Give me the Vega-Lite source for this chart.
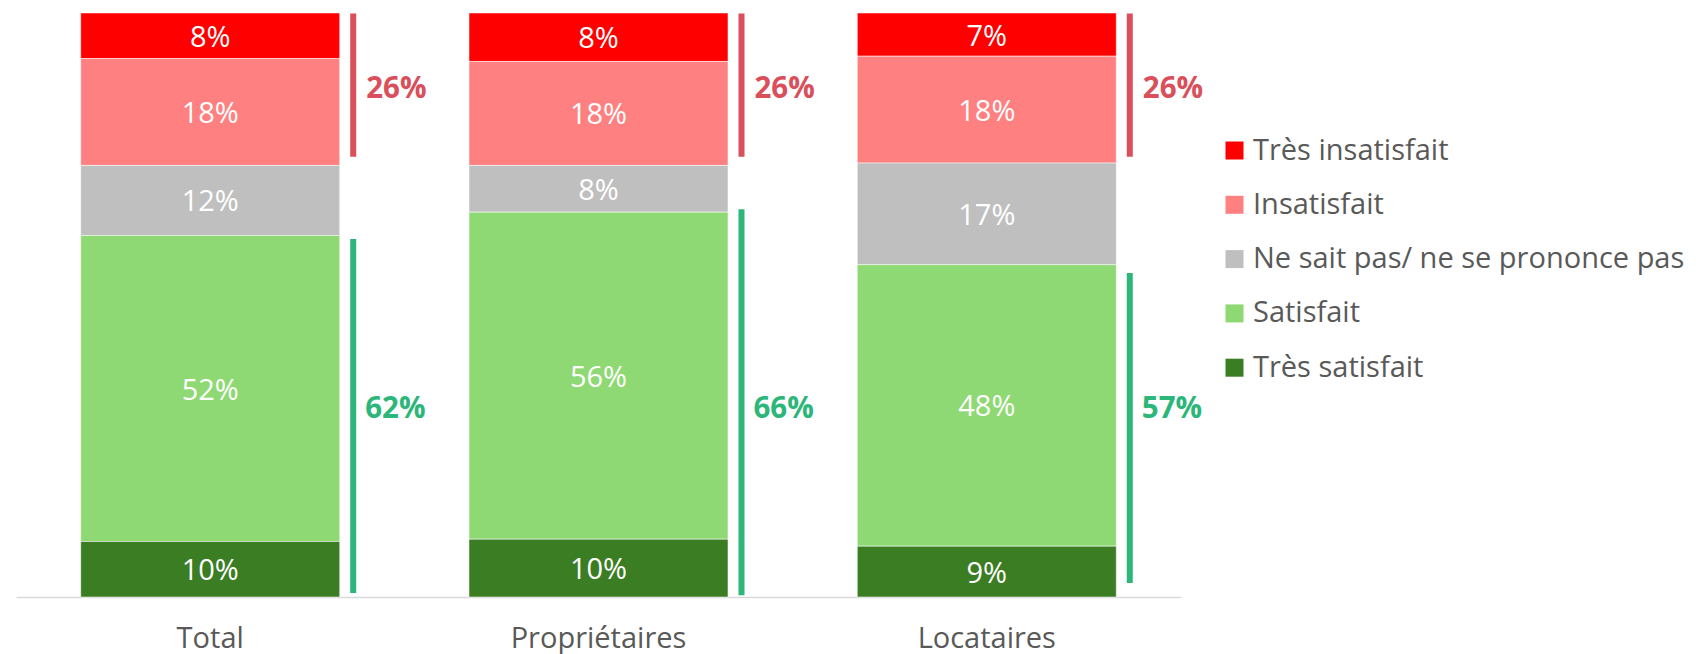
{
  "$schema": "https://vega.github.io/schema/vega-lite/v6.json",
  "width": 1165,
  "height": 584,
  "autosize": {"type": "none"},
  "padding": {"left": 16, "top": 13, "right": 515, "bottom": 57},
  "background": "white",
  "config": {"view": {"stroke": null}, "font": "Open Sans"},
  "datasets": {
    "bars": [
      {"groupe": "Total", "reponse": "Très insatisfait", "rang": 5, "part": 0.078},
      {"groupe": "Total", "reponse": "Insatisfait", "rang": 4, "part": 0.183},
      {"groupe": "Total", "reponse": "Ne sait pas/ ne se prononce pas", "rang": 3, "part": 0.12},
      {"groupe": "Total", "reponse": "Satisfait", "rang": 2, "part": 0.524},
      {"groupe": "Total", "reponse": "Très satisfait", "rang": 1, "part": 0.095},
      {"groupe": "Propriétaires", "reponse": "Très insatisfait", "rang": 5, "part": 0.083},
      {"groupe": "Propriétaires", "reponse": "Insatisfait", "rang": 4, "part": 0.178},
      {"groupe": "Propriétaires", "reponse": "Ne sait pas/ ne se prononce pas", "rang": 3, "part": 0.08},
      {"groupe": "Propriétaires", "reponse": "Satisfait", "rang": 2, "part": 0.56},
      {"groupe": "Propriétaires", "reponse": "Très satisfait", "rang": 1, "part": 0.099},
      {"groupe": "Locataires", "reponse": "Très insatisfait", "rang": 5, "part": 0.074},
      {"groupe": "Locataires", "reponse": "Insatisfait", "rang": 4, "part": 0.183},
      {"groupe": "Locataires", "reponse": "Ne sait pas/ ne se prononce pas", "rang": 3, "part": 0.174},
      {"groupe": "Locataires", "reponse": "Satisfait", "rang": 2, "part": 0.482},
      {"groupe": "Locataires", "reponse": "Très satisfait", "rang": 1, "part": 0.087}
    ],
    "brackets": [
      {"groupe": "Total", "type": "insatisfaits", "total": 0.26, "hi": 0.999, "lo": 0.754},
      {"groupe": "Propriétaires", "type": "insatisfaits", "total": 0.26, "hi": 0.999, "lo": 0.754},
      {"groupe": "Locataires", "type": "insatisfaits", "total": 0.26, "hi": 0.999, "lo": 0.754},
      {"groupe": "Total", "type": "satisfaits", "total": 0.62, "hi": 0.613, "lo": 0.007},
      {"groupe": "Propriétaires", "type": "satisfaits", "total": 0.66, "hi": 0.664, "lo": 0.003},
      {"groupe": "Locataires", "type": "satisfaits", "total": 0.57, "hi": 0.555, "lo": 0.024}
    ]
  },
  "layer": [
    {
      "data": {"name": "bars"},
      "mark": {"type": "bar", "stroke": "white", "strokeWidth": 1, "strokeOpacity": 0.5},
      "encoding": {
        "x": {
          "field": "groupe", "type": "nominal",
          "sort": ["Total", "Propriétaires", "Locataires"],
          "scale": {"paddingInner": 0.333, "paddingOuter": 0.1667},
          "axis": {
            "title": null, "labelAngle": 0, "labelFontSize": 29, "labelColor": "#595959",
            "labelPadding": 27, "ticks": false, "domainColor": "#D9D9D9", "domainWidth": 1.5,
            "labelFont": "Open Sans"
          }
        },
        "y": {
          "field": "part", "type": "quantitative", "stack": "zero",
          "scale": {"domain": [0, 1], "nice": false},
          "axis": null
        },
        "color": {
          "field": "reponse", "type": "nominal",
          "scale": {
            "domain": ["Très insatisfait", "Insatisfait", "Ne sait pas/ ne se prononce pas", "Satisfait", "Très satisfait"],
            "range": ["#FF0000", "#FF8080", "#BFBFBF", "#8ED973", "#3B7D23"]
          },
          "legend": {
            "title": null, "orient": "none", "legendX": 1204, "legendY": 123,
            "symbolType": "square", "symbolSize": 324, "symbolStrokeWidth": 0,
            "labelFontSize": 29, "labelColor": "#595959", "labelFont": "Open Sans",
            "rowPadding": 24.3, "padding": 0, "labelOffset": 4, "labelLimit": 600
          }
        },
        "order": {"field": "rang", "type": "quantitative", "sort": "ascending"}
      }
    },
    {
      "data": {"name": "bars"},
      "mark": {"type": "text", "color": "white", "fontSize": 29, "baseline": "middle", "align": "center", "dy": 2},
      "encoding": {
        "x": {"field": "groupe", "type": "nominal", "sort": ["Total", "Propriétaires", "Locataires"]},
        "y": {"field": "part", "type": "quantitative", "stack": "zero", "bandPosition": 0.5},
        "detail": {"field": "reponse"},
        "order": {"field": "rang", "type": "quantitative", "sort": "ascending"},
        "text": {"field": "part", "type": "quantitative", "format": ".0%"}
      }
    },
    {
      "data": {"name": "brackets"},
      "transform": [{"filter": "datum.type === 'insatisfaits'"}],
      "mark": {"type": "rule", "color": "#D94F5C", "strokeWidth": 6, "xOffset": 143},
      "encoding": {
        "x": {"field": "groupe", "type": "nominal", "sort": ["Total", "Propriétaires", "Locataires"]},
        "y": {"field": "hi", "type": "quantitative"},
        "y2": {"field": "lo"}
      }
    },
    {
      "data": {"name": "brackets"},
      "transform": [{"filter": "datum.type === 'satisfaits'"}],
      "mark": {"type": "rule", "color": "#2DB67A", "strokeWidth": 6, "xOffset": 143},
      "encoding": {
        "x": {"field": "groupe", "type": "nominal", "sort": ["Total", "Propriétaires", "Locataires"]},
        "y": {"field": "hi", "type": "quantitative"},
        "y2": {"field": "lo"}
      }
    },
    {
      "data": {"name": "brackets"},
      "transform": [{"filter": "datum.type === 'insatisfaits'"}],
      "mark": {"type": "text", "color": "#D94F5C", "fontSize": 29.5, "fontWeight": "bold", "align": "left", "baseline": "middle", "dx": 156, "dy": 76},
      "encoding": {
        "x": {"field": "groupe", "type": "nominal", "sort": ["Total", "Propriétaires", "Locataires"]},
        "y": {"datum": 1},
        "text": {"field": "total", "type": "quantitative", "format": ".0%"}
      }
    },
    {
      "data": {"name": "brackets"},
      "transform": [{"filter": "datum.type === 'satisfaits'"}],
      "mark": {"type": "text", "color": "#2DB67A", "fontSize": 29.5, "fontWeight": "bold", "align": "left", "baseline": "middle", "dx": 155, "dy": -188},
      "encoding": {
        "x": {"field": "groupe", "type": "nominal", "sort": ["Total", "Propriétaires", "Locataires"]},
        "y": {"datum": 0},
        "text": {"field": "total", "type": "quantitative", "format": ".0%"}
      }
    }
  ]
}
